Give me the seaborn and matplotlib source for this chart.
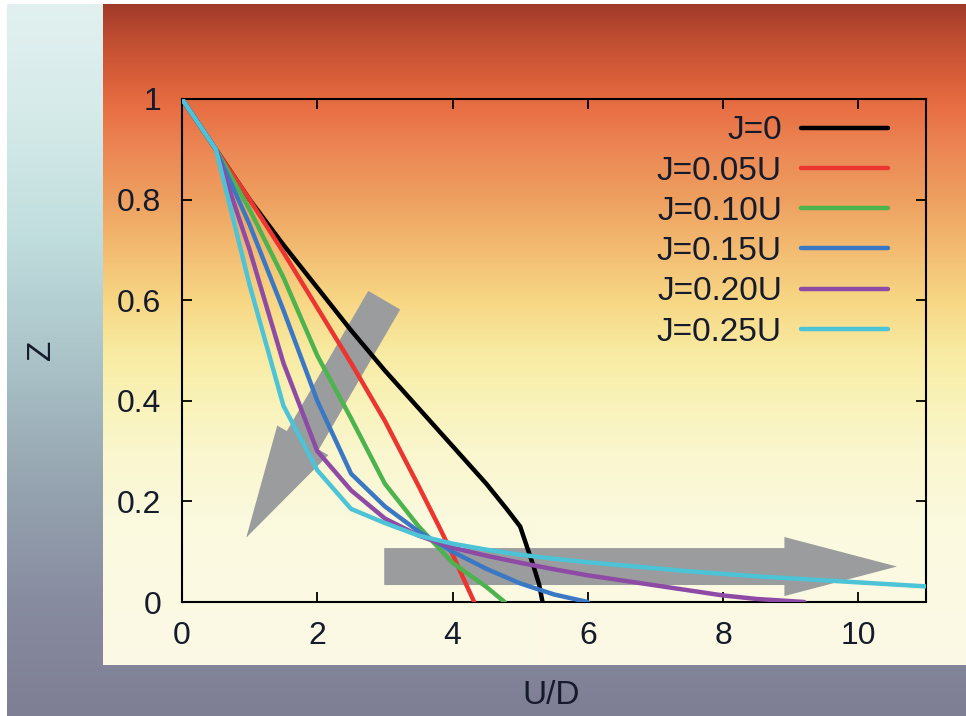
import numpy as np
import pandas as pd
import matplotlib
matplotlib.use("Agg")
import matplotlib.pyplot as plt
import seaborn as sns
from matplotlib.patches import FancyArrowPatch

# ---------------- data ----------------
labels = ["J=0", "J=0.05U", "J=0.10U", "J=0.15U", "J=0.20U", "J=0.25U"]

ud_j000 = [0, 0.5, 1.0, 1.5, 2.0, 2.5, 3.0, 3.5, 4.0, 4.5, 4.8, 5.0, 5.1, 5.2, 5.28, 5.33]
z_j000 = [1.0, 0.9, 0.8, 0.71, 0.625, 0.54, 0.46, 0.385, 0.31, 0.235, 0.185, 0.15, 0.11, 0.07, 0.035, 0.0]

ud_j005 = [0, 0.5, 1.0, 1.5, 2.0, 2.5, 3.0, 3.5, 3.8, 4.0, 4.15, 4.32]
z_j005 = [1.0, 0.9, 0.8, 0.695, 0.585, 0.475, 0.36, 0.23, 0.15, 0.095, 0.05, 0.0]

ud_j010 = [0, 0.5, 1.0, 1.5, 2.0, 2.5, 3.0, 3.5, 4.0, 4.5, 4.77]
z_j010 = [1.0, 0.9, 0.78, 0.645, 0.49, 0.365, 0.235, 0.15, 0.078, 0.03, 0.0]

ud_j015 = [0, 0.5, 1.0, 1.5, 2.0, 2.5, 3.0, 3.5, 4.0, 4.5, 5.0, 5.5, 6.0]
z_j015 = [1.0, 0.9, 0.75, 0.58, 0.40, 0.255, 0.19, 0.14, 0.10, 0.066, 0.037, 0.015, 0.0]

ud_j020 = [0, 0.5, 1.0, 1.5, 2.0, 2.5, 3.0, 3.5, 4.0, 4.5, 5.0, 5.5, 6.0, 6.5, 7.0, 7.5, 8.0, 8.5, 9.2]
z_j020 = [1.0, 0.9, 0.70, 0.475, 0.30, 0.222, 0.166, 0.132, 0.108, 0.092, 0.078, 0.065, 0.053,
          0.043, 0.033, 0.023, 0.013, 0.006, 0.0]

ud_j025 = [0, 0.5, 1.0, 1.5, 2.0, 2.5, 3.0, 3.5, 4.0, 4.5, 5.0, 5.5, 6.0, 6.5, 7.0, 7.5,
           8.0, 8.5, 9.0, 9.5, 10.0, 10.5, 11.0]
z_j025 = [1.0, 0.9, 0.63, 0.39, 0.262, 0.185, 0.157, 0.132, 0.116, 0.104, 0.094, 0.086, 0.079,
          0.073, 0.067, 0.061, 0.056, 0.051, 0.047, 0.043, 0.039, 0.035, 0.031]

x_ticks = [0, 2, 4, 6, 8, 10]
x_tick_labels = ["0", "2", "4", "6", "8", "10"]
y_ticks = [0, 0.2, 0.4, 0.6, 0.8, 1.0]
y_tick_labels = ["0", "0.2", "0.4", "0.6", "0.8", "1"]

series_ud = [ud_j000, ud_j005, ud_j010, ud_j015, ud_j020, ud_j025]
series_z = [z_j000, z_j005, z_j010, z_j015, z_j020, z_j025]

# annotation arrows (data coords): tail -> tip
arrow_down = ((2.99, 0.60), (0.95, 0.128))
arrow_right = ((2.99, 0.0705), (10.57, 0.0705))

colors = ["#000000", "#ea3530", "#4db34f", "#3b78c4", "#8d4ba6", "#4cc3d6"]

rows = []
for lab, xs, zs in zip(labels, series_ud, series_z):
    for i, (xv, zv) in enumerate(zip(xs, zs)):
        rows.append({"J": lab, "ud": xv, "z": zv, "idx": i})
df = pd.DataFrame(rows)

# ---------------- style ----------------
sns.set_style("ticks")
plt.rcParams["font.family"] = ["Liberation Sans", "DejaVu Sans"]
text_col = "#161b2c"

W, H = 966, 716
fig = plt.figure(figsize=(9.66, 7.16), dpi=100)
fig.patch.set_facecolor("white")

bg = fig.add_axes([0, 0, 1, 1], zorder=0)


def grad(stops, y0, y1):
    ys = np.arange(y0, y1) + 0.5
    pos = [s[0] for s in stops]
    cols = np.array([s[1] for s in stops], dtype=float) / 255.0
    arr = np.stack([np.interp(ys, pos, cols[:, i]) for i in range(3)], axis=-1)
    return arr[:, None, :]


outer_stops = [(4, (226, 241, 240)), (120, (212, 234, 233)), (240, (192, 221, 221)),
               (360, (170, 195, 200)), (480, (150, 165, 177)), (600, (136, 140, 160)),
               (716, (126, 126, 149))]
inner_stops = [(4, (160, 58, 40)), (40, (192, 78, 50)), (80, (218, 96, 58)),
               (110, (232, 112, 68)), (150, (236, 135, 84)), (200, (238, 160, 96)),
               (250, (243, 188, 114)), (300, (247, 214, 132)), (350, (248, 234, 160)),
               (400, (249, 242, 184)), (450, (250, 246, 205)), (520, (251, 249, 222)),
               (665, (251, 250, 230))]

bg.imshow(grad(outer_stops, 4, 716), extent=(7, 966, 716, 4), aspect="auto",
          interpolation="bilinear")
bg.imshow(grad(inner_stops, 4, 665), extent=(103, 966, 665, 4), aspect="auto",
          interpolation="bilinear")
bg.set_xlim(0, W)
bg.set_ylim(H, 0)
bg.axis("off")

ax = fig.add_axes([182 / W, 1 - 602 / H, (926 - 182) / W, (602 - 99) / H], zorder=1)
ax.set_facecolor("none")

palette = dict(zip(labels, colors))
sns.lineplot(data=df, x="ud", y="z", hue="J", hue_order=labels, palette=palette,
             sort=False, estimator=None, units="J", lw=3.2, ax=ax, zorder=3)

for (tail, tip) in (arrow_down, arrow_right):
    ar = FancyArrowPatch(tail, tip, arrowstyle="simple,head_length=81,head_width=42.5,tail_width=26.6",
                         mutation_scale=1, shrinkA=0, shrinkB=0, color="#9b9c9d",
                         lw=0, zorder=2)
    ax.add_patch(ar)

ax.set_xlim(0, 11)
ax.set_ylim(0, 1)
ax.set_xticks(x_ticks, x_tick_labels)
ax.set_yticks(y_ticks, y_tick_labels)
ax.tick_params(direction="in", length=7, width=1.3, top=True, right=True,
               labelsize=23, labelcolor=text_col, color="black")
ax.tick_params(axis="y", pad=15)
ax.tick_params(axis="x", pad=14)
for sp in ax.spines.values():
    sp.set_visible(True)
    sp.set_linewidth(1.5)
    sp.set_color("black")

ax.set_xlabel("U/D", fontsize=24, color=text_col, va="center")
ax.xaxis.set_label_coords(0.496, -0.186)
ax.set_ylabel("Z", fontsize=24, color=text_col, va="center")
ax.yaxis.set_label_coords(-0.189, 0.501)

handles, labs = ax.get_legend_handles_labels()
leg = ax.legend(handles, labs, loc="upper right", bbox_to_anchor=(0.9668, 0.994),
                borderaxespad=0, frameon=False, markerfirst=False, fontsize=24,
                handlelength=2.61, handletextpad=0.57, labelspacing=0.278)
for t in leg.get_texts():
    t.set_color(text_col)
for l in leg.get_lines():
    l.set_linewidth(3.2)

fig.savefig("out.png", dpi=100)
